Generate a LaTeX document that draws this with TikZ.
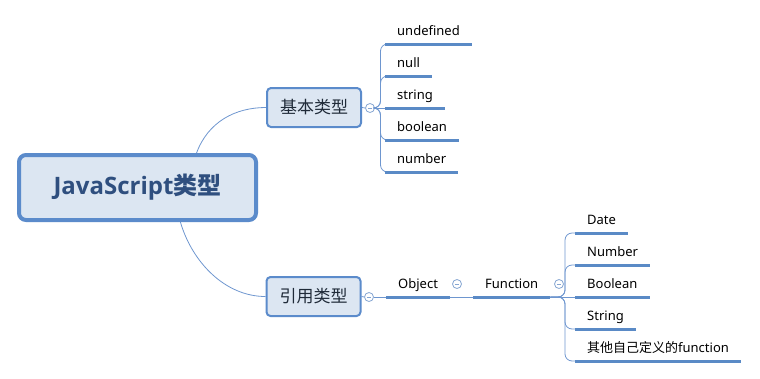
\documentclass[tikz,border=0pt]{standalone}
\usepackage{fontspec}
\setmainfont{Noto Sans}
\newfontfamily\cjk{Noto Sans CJK SC}
\newfontfamily\rootfont{Open Sans}
\usetikzlibrary{calc}
\definecolor{bordc}{HTML}{5B8BCB}
\definecolor{fillc}{HTML}{DCE6F2}
\definecolor{linec}{HTML}{6E96CF}
\definecolor{ulc}{HTML}{5A8AC6}
\definecolor{roottext}{HTML}{2F4F7F}
\definecolor{boxtext}{HTML}{1F2A38}
\definecolor{circc}{HTML}{86A6D2}
\tikzset{
  x=1pt, y=-1pt,
  rootbox/.style={draw=bordc, fill=fillc, line width=4pt, rounded corners=7pt,
    minimum width=237pt, minimum height=65pt, text=roottext,
    font=\fontsize{24}{28}\selectfont\rootfont\bfseries},
  subbox/.style={draw=bordc, fill=fillc, line width=2pt, rounded corners=4pt,
    minimum width=94pt, minimum height=39pt, text=boxtext,
    font=\fontsize{17}{20}\selectfont\cjk},
  leaf/.style={anchor=south west, inner xsep=12pt, inner ysep=5pt,
    text height=10pt, text depth=3pt, text=black,
    font=\fontsize{13}{15}\selectfont},
  uline/.style={draw=ulc, line width=3pt},
  branch/.style={draw=linec, line width=0.8pt},
  collapse/.style={circle, draw=circc, fill=white, line width=0.8pt,
    minimum size=9pt, inner sep=0pt,
    path picture={\draw[circc, line width=0.8pt] ([xshift=-2.2pt]path picture bounding box.center) -- ([xshift=2.2pt]path picture bounding box.center);}},
}
\begin{document}
\begin{tikzpicture}
\useasboundingbox (0,0) rectangle (760,378);

% root
\node[rootbox] (root) at (137.5,187.5) {JavaScript{\cjk\bfseries 类型}};

% level 1 boxes
\node[subbox] (basic) at (314,107.5) {基本类型};
\node[subbox] (ref) at (313.5,296.5) {引用类型};

% curves root -> boxes
\coordinate (rtop) at ($(root.north west)!0.745!(root.north east)$);
\coordinate (rbot) at ($(root.south west)!0.678!(root.south east)$);
\draw[branch] (rtop) .. controls (208,122) and (235,107.5) .. (basic.west);
\draw[branch] (rbot) .. controls (192,262) and (225,296.5) .. (ref.west);

% collapse circles
\node[collapse] (c1) at (370,108) {};
\node[collapse] (c2) at (369,297) {};
\node[collapse] (c3) at (457,284) {};
\node[collapse] (c4) at (559,284) {};

% basic leaves
\node[leaf] (l1) at (385,44) {undefined};
\node[leaf] (l2) at (385,76) {null};
\node[leaf] (l3) at (385,108) {string};
\node[leaf] (l4) at (385,140) {boolean};
\node[leaf] (l5) at (385,172) {number};

% ref chain
\node[leaf] (obj) at (386,297) {Object};
\node[leaf] (fun) at (473,297) {Function};

% function leaves
\node[leaf] (f1) at (575,233) {Date};
\node[leaf] (f2) at (575,265) {Number};
\node[leaf] (f3) at (575,297) {Boolean};
\node[leaf] (f4) at (575,329) {String};
\node[leaf] (f5) at (575,361) {{\cjk 其他自己定义的}function};

% connectors basic
\draw[branch] (basic.east) -- (c1.west);
\coordinate (s1) at (380.5,108);
\foreach \l in {l1,l2,l4,l5}{
  \draw[branch, rounded corners=7pt] (c1.east) -- (s1) |- (\l.south west);
}
\draw[branch] (c1.east) -- (l3.south west);

% connectors ref
\draw[branch] (ref.east) -- (c2.west);
\draw[branch] (c2.east) -- (obj.south west);
\draw[branch] (obj.south east) -- (fun.south west);
\coordinate (s2) at (565,297);
\foreach \l in {f1,f2,f4,f5}{
  \draw[branch, rounded corners=7pt] (fun.south east) -- (s2) |- (\l.south west);
}
\draw[branch] (fun.south east) -- (f3.south west);

% underlines
\foreach \l in {l1,l2,l3,l4,l5,obj,fun,f1,f2,f3,f4,f5}{
  \draw[uline] (\l.south west) -- (\l.south east);
}
\end{tikzpicture}
\end{document}
